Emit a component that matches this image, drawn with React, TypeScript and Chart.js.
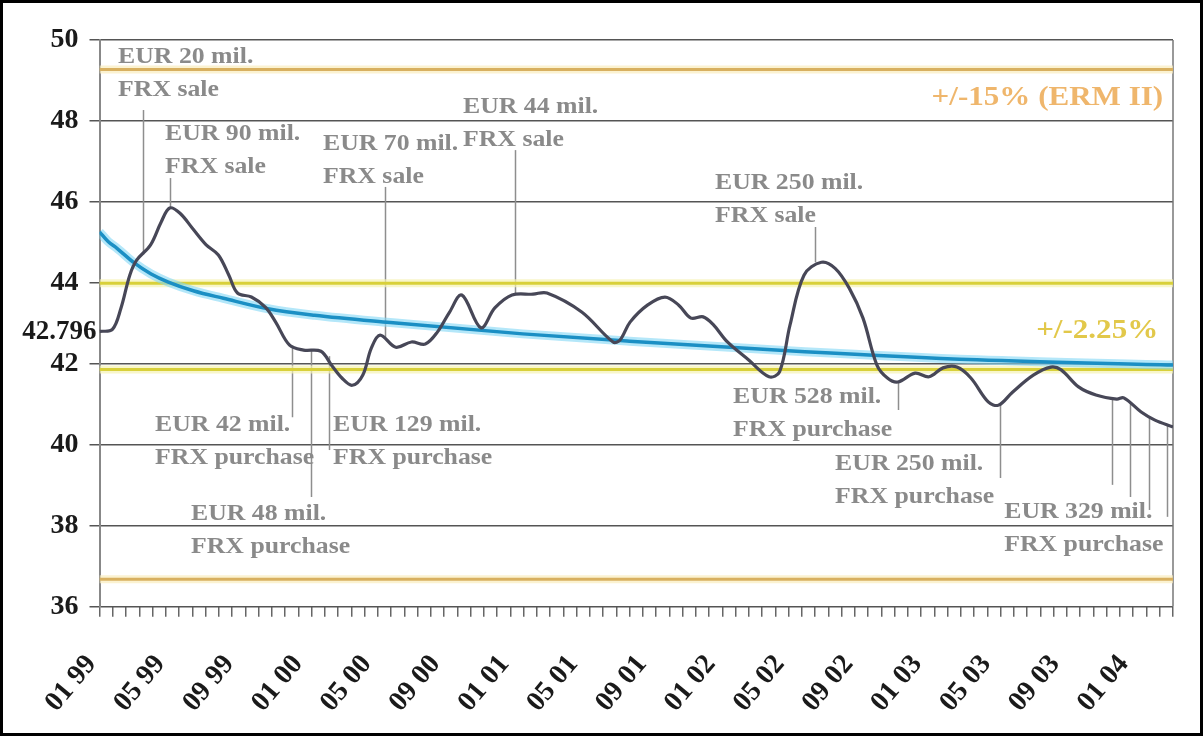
import React, { useEffect, useRef } from 'react';
import { Chart, registerables } from 'chart.js';

Chart.register(...registerables);

const FONT = "'Liberation Serif', 'Times New Roman', serif";

// Time axis: months since January 1999
const xMax = 62.4;
const monthsPerLabel = 4;
const xTickLabels = ['01 99', '05 99', '09 99', '01 00', '05 00', '09 00', '01 01', '05 01', '09 01', '01 02', '05 02', '09 02', '01 03', '05 03', '09 03', '01 04'];
const minorTickCount = 81;

// SKK/EUR exchange rate
const rateMonths = [0, 0.75, 1.25, 1.76, 2.16, 2.97, 3.58, 4.08, 4.68, 5.40, 6.20, 6.91, 7.52, 8.02, 8.83, 9.64, 10.24, 11.05, 11.86, 12.87, 13.48, 14.09, 14.69, 15.30, 15.80, 16.31, 17.22, 18.13, 18.94, 19.65, 20.35, 21.06, 22.17, 22.98, 23.98, 25.20, 26.01, 28.03, 29.85, 30.26, 30.84, 31.85, 32.87, 33.67, 34.38, 35.09, 35.69, 36.50, 37.72, 38.92, 39.53, 40.14, 40.95, 41.96, 42.76, 43.58, 44.38, 45.19, 45.80, 46.40, 47.41, 48.22, 49.03, 49.84, 50.65, 51.66, 52.26, 53.07, 54.28, 55.30, 55.90, 56.91, 57.92, 59.13, 59.54, 60.55, 61.35, 62.40];
const rateValues = [42.80, 42.85, 43.38, 44.19, 44.56, 44.94, 45.50, 45.85, 45.72, 45.35, 44.94, 44.69, 44.19, 43.75, 43.65, 43.40, 43.03, 42.46, 42.34, 42.31, 41.97, 41.65, 41.47, 41.72, 42.39, 42.71, 42.41, 42.54, 42.49, 42.79, 43.28, 43.70, 42.89, 43.38, 43.70, 43.72, 43.75, 43.28, 42.54, 42.59, 43.03, 43.45, 43.65, 43.45, 43.13, 43.16, 42.96, 42.54, 42.10, 41.68, 41.80, 42.96, 44.19, 44.51, 44.36, 43.87, 43.13, 41.97, 41.65, 41.55, 41.77, 41.68, 41.90, 41.92, 41.65, 41.06, 40.98, 41.30, 41.72, 41.92, 41.85, 41.43, 41.23, 41.13, 41.16, 40.81, 40.61, 40.44];

// Trend
const trendMonths = [0, 0.5, 1.0, 2.0, 3.0, 4.0, 5.5, 7.2, 9.8, 12.5, 16.9, 24.6, 30.8, 41.0, 51.0, 62.4];
const trendValues = [45.26, 45.02, 44.86, 44.50, 44.22, 44.02, 43.80, 43.62, 43.36, 43.20, 43.02, 42.74, 42.56, 42.30, 42.10, 41.97];

// Bands
const centralParity = 42.796;
const ermUpper = 49.27;
const ermLower = 36.68;
const narrowUpper = 43.99;
const narrowLower = 41.86;

// Interventions: text anchor (month, rate) and leader lines (month, from, to)
const annotationLines = [
  ['EUR 20 mil.', 'FRX sale'],
  ['EUR 90 mil.', 'FRX sale'],
  ['EUR 70 mil.', 'FRX sale'],
  ['EUR 44 mil.', 'FRX sale'],
  ['EUR 250 mil.', 'FRX sale'],
  ['EUR 42 mil.', 'FRX purchase'],
  ['EUR 48 mil.', 'FRX purchase'],
  ['EUR 129 mil.', 'FRX purchase'],
  ['EUR 528 mil.', 'FRX purchase'],
  ['EUR 250 mil.', 'FRX purchase'],
  ['EUR 329 mil.', 'FRX purchase'],
];
const annotationMonths = [1.08, 3.81, 12.99, 21.13, 35.78, 3.23, 5.32, 13.58, 36.83, 42.76, 52.59];
const annotationRates = [49.58, 47.68, 47.43, 48.35, 46.47, 40.49, 38.29, 40.49, 41.18, 39.53, 38.34];

const leaderMonths = [2.53, 4.10, 16.6, 24.16, 41.6, 11.19, 12.30, 13.34, 46.42, 52.35, 58.87, 59.91, 61.02, 62.07];
const leaderFrom = [48.27, 46.59, 46.37, 47.28, 45.38, 42.46, 42.34, 42.19, 41.55, 40.98, 41.13, 41.06, 40.71, 40.49];
const leaderTo = [44.70, 45.85, 42.65, 43.72, 44.51, 40.68, 38.71, 39.87, 40.86, 39.18, 39.01, 38.71, 38.39, 38.22];

const bandLabels = ['+/-15% (ERM II)', '+/-2.25%'];
const bandLabelMonths = [61.83, 61.54];
const bandLabelRates = [48.56, 42.81];
const bandLabelColors = ['#efb66c', '#e2c84a'];

const pts = (xs: number[], ys: number[]) => xs.map((x, i) => ({ x, y: ys[i] }));
const flat = (v: number) => [{ x: 0, y: v }, { x: xMax, y: v }];

function drawStretched(ctx: CanvasRenderingContext2D, text: string, x: number, y: number, sx: number) {
  ctx.save();
  ctx.translate(x, y);
  ctx.scale(sx, 1);
  ctx.fillText(text, 0, 0);
  ctx.restore();
}

const decorPlugin = {
  id: 'decor',
  beforeDatasetsDraw(chart: any) {
    const { ctx, chartArea, scales } = chart;
    const xs = scales.x;
    const ys = scales.y;
    ctx.save();
    ctx.strokeStyle = '#777';
    ctx.lineWidth = 1.5;
    ctx.beginPath();
    ctx.moveTo(chartArea.right, chartArea.top);
    ctx.lineTo(chartArea.right, chartArea.bottom);
    ctx.stroke();
    ctx.strokeStyle = '#8e8e8e';
    ctx.lineWidth = 1.5;
    leaderMonths.forEach((m, i) => {
      const px = Math.round(xs.getPixelForValue(m)) + 0.5;
      ctx.beginPath();
      ctx.moveTo(px, ys.getPixelForValue(leaderFrom[i]));
      ctx.lineTo(px, ys.getPixelForValue(leaderTo[i]));
      ctx.stroke();
    });
    ctx.restore();
  },
  afterDraw(chart: any) {
    const { ctx, chartArea, scales } = chart;
    const xs = scales.x;
    const ys = scales.y;
    ctx.save();
    ctx.textBaseline = 'middle';
    ctx.textAlign = 'left';
    ctx.font = `bold 23px ${FONT}`;
    ctx.fillStyle = '#8a8a8a';
    annotationLines.forEach((lines, i) => {
      const px = xs.getPixelForValue(annotationMonths[i]);
      const py = ys.getPixelForValue(annotationRates[i]);
      lines.forEach((t, j) => drawStretched(ctx, t, px, py + j * 33, 1.12));
    });
    ctx.textAlign = 'right';
    ctx.font = `bold 27px ${FONT}`;
    bandLabels.forEach((t, i) => {
      ctx.fillStyle = bandLabelColors[i];
      drawStretched(ctx, t, xs.getPixelForValue(bandLabelMonths[i]), ys.getPixelForValue(bandLabelRates[i]), 1.15);
    });
    ctx.fillStyle = '#1a1a1a';
    ctx.font = `bold 27px ${FONT}`;
    ctx.fillText(String(centralParity), chartArea.left - 3, ys.getPixelForValue(centralParity));
    ctx.strokeStyle = '#000';
    ctx.lineWidth = 3;
    ctx.strokeRect(1.5, 1.5, chart.width - 3, chart.height - 3);
    ctx.restore();
  },
};

export default function App() {
  const ref = useRef<HTMLCanvasElement | null>(null);
  useEffect(() => {
    if (!ref.current) return;
    const chart = new Chart(ref.current, {
      type: 'line',
      data: {
        datasets: [
          { data: pts(rateMonths, rateValues), borderColor: '#474757', borderWidth: 3.2, pointRadius: 0, tension: 0.35, order: 0 },
          { data: pts(trendMonths, trendValues), borderColor: '#1b8fc4', borderWidth: 3.5, pointRadius: 0, cubicInterpolationMode: 'monotone', order: 1 },
          { data: pts(trendMonths, trendValues), borderColor: 'rgba(130,215,245,0.6)', borderWidth: 9, pointRadius: 0, cubicInterpolationMode: 'monotone', order: 2 },
          { data: flat(ermUpper), borderColor: '#d8b060', borderWidth: 3, pointRadius: 0, order: 3 },
          { data: flat(ermLower), borderColor: '#d8b060', borderWidth: 3, pointRadius: 0, order: 3 },
          { data: flat(narrowUpper), borderColor: '#d8d03a', borderWidth: 3, pointRadius: 0, order: 3 },
          { data: flat(narrowLower), borderColor: '#d8d03a', borderWidth: 3, pointRadius: 0, order: 3 },
          { data: flat(ermUpper), borderColor: 'rgba(250,236,190,0.7)', borderWidth: 8, pointRadius: 0, order: 4 },
          { data: flat(ermLower), borderColor: 'rgba(250,236,190,0.7)', borderWidth: 8, pointRadius: 0, order: 4 },
          { data: flat(narrowUpper), borderColor: 'rgba(245,242,180,0.7)', borderWidth: 8, pointRadius: 0, order: 4 },
          { data: flat(narrowLower), borderColor: 'rgba(245,242,180,0.7)', borderWidth: 8, pointRadius: 0, order: 4 },
        ],
      },
      options: {
        responsive: false,
        animation: false,
        events: [],
        layout: { autoPadding: false, padding: { left: 0, top: 40, right: 30, bottom: 0 } },
        plugins: { legend: { display: false }, tooltip: { enabled: false } },
        scales: {
          xm: {
            type: 'linear',
            position: 'bottom',
            min: 0,
            max: xMax,
            weight: 0,
            afterBuildTicks: (s: any) => {
              s.ticks = Array.from({ length: minorTickCount + 1 }, (_, i) => ({ value: (i * xMax) / minorTickCount }));
            },
            ticks: { display: false },
            grid: { drawOnChartArea: false, color: '#666', lineWidth: 1.5, tickLength: 10 },
            border: { display: false },
            afterFit: (s: any) => { s.height = 10; },
          },
          x: {
            type: 'linear',
            position: 'bottom',
            min: 0,
            max: xMax,
            weight: 1,
            afterBuildTicks: (s: any) => {
              s.ticks = xTickLabels.map((_, i) => ({ value: i * monthsPerLabel }));
            },
            ticks: {
              autoSkip: false,
              minRotation: 50,
              maxRotation: 50,
              padding: 24,
              labelOffset: -8,
              color: '#1a1a1a',
              font: { family: FONT, size: 28, weight: 'bold' },
              callback: (_v: any, i: number) => xTickLabels[i],
            },
            grid: { display: false },
            border: { display: false },
            afterFit: (s: any) => { s.height = 119.3; },
          },
          y: {
            min: 36,
            max: 50,
            ticks: { stepSize: 2, padding: 11, color: '#1a1a1a', font: { family: FONT, size: 28, weight: 'bold' } },
            grid: { color: '#555', lineWidth: 1.5, tickLength: 10 },
            border: { display: true, color: '#888', width: 2 },
            afterFit: (s: any) => { s.width = 99.5; },
          },
        },
      },
      plugins: [decorPlugin],
    } as any);
    return () => chart.destroy();
  }, []);
  return (
    <div style={{ position: 'absolute', left: 0, top: 0, width: 1203, height: 736, background: '#fff' }}>
      <canvas ref={ref} width={1203} height={736} />
    </div>
  );
}
